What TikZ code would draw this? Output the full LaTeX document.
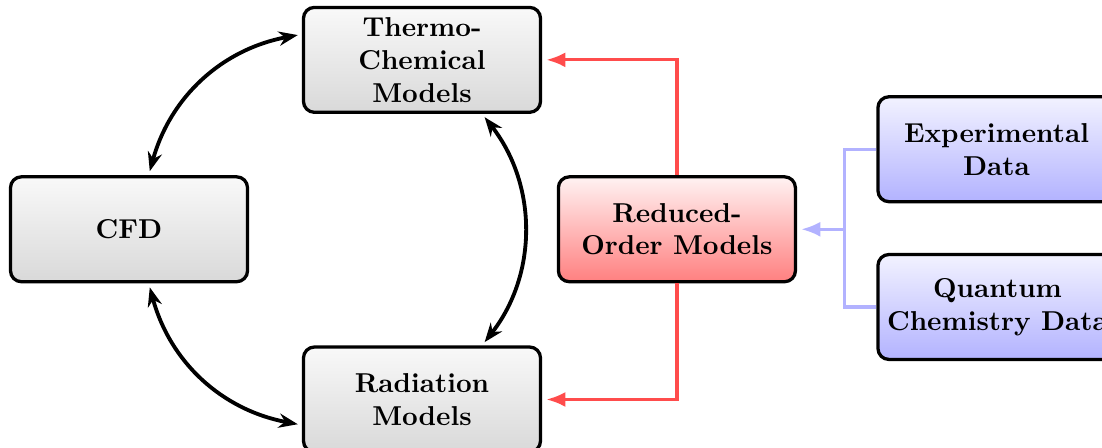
\documentclass[tikz,border=0pt]{standalone}
\usepackage{amsmath,amssymb}
\usepackage{tikz}
\usetikzlibrary{
  arrows.meta,
  positioning,
  calc
}
\tikzset{
  modelbox/.style={draw, rounded corners=4pt, very thick,
    top color=gray!5, bottom color=gray!30,
    minimum width=3.05cm, minimum height=1.35cm,
    align=center, font=\bfseries},
  rombox/.style={modelbox, top color=red!5, bottom color=red!50},
  databox/.style={modelbox, top color=blue!5, bottom color=blue!30},
  arr/.style={{Stealth[length=7pt]}-{Stealth[length=7pt]}, line width=1.4pt,
    shorten <=1.5pt, shorten >=1.5pt},
  rarr/.style={-{Latex[length=7pt, width=5.5pt]}, very thick, red!70,
    shorten >=1.5pt},
  barr/.style={-{Latex[length=7pt, width=5.5pt]}, very thick, blue!30,
    shorten >=1.5pt},
}

\begin{document}
\begin{tikzpicture}
  \useasboundingbox (-1.66,-2.81) rectangle (12.52,2.95);
  \node[modelbox] (cfd) at (0,0) {CFD};
  \node[modelbox] (thermo) at (3.77,2.18) {Thermo-\\Chemical\\Models};
  \node[modelbox] (rad) at (3.77,-2.19) {Radiation\\Models};
  \node[rombox] (rom) at (7.05,0) {Reduced-\\Order Models};
  \node[databox, right=1.02cm of rom, yshift=1.03cm] (exp)
    {Experimental\\Data};
  \node[databox, right=1.02cm of rom, yshift=-1.0cm] (qc)
    {Quantum\\Chemistry Data};
  % coupling cycle
  \draw[arr] (cfd.70) to[bend left=32] (thermo.168);
  \draw[arr] (thermo.-42) to[bend left=38] (rad.42);
  \draw[arr] (cfd.-70) to[bend right=32] (rad.192);
  % reduced-order models feed both sub-models
  \draw[rarr] (rom.north) |- (thermo.east);
  \draw[rarr] (rom.south) |- (rad.east);
  % data sources
  \draw[very thick, blue!30] (exp.west) -- ++(-0.41,0) coordinate (jn)
    |- (qc.west);
  \draw[barr] (jn |- rom.east) -- (rom.east);
\end{tikzpicture}
\end{document}
